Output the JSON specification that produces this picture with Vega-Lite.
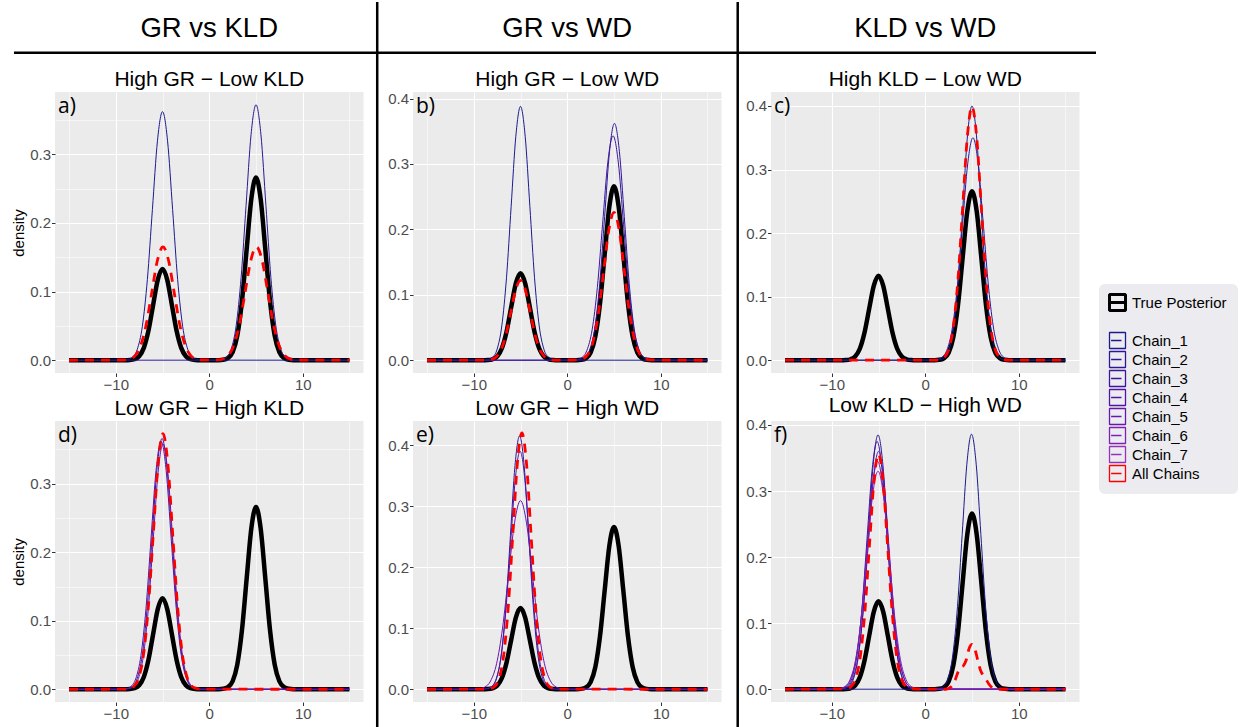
{
"$schema": "https://vega.github.io/schema/vega-lite/v6.json",
"padding": {"left": 11, "top": 0, "right": 0, "bottom": 0},
"background": "white",
"datasets": {
"headers": [{"column": "GR vs KLD"}, {"column": "GR vs WD"}, {"column": "KLD vs WD"}],
"truth": [
{"series":"True Posterior","x":-15,"density":0},{"series":"True Posterior","x":-9,"density":0},{"series":"True Posterior","x":-8.5,"density":0.0003},{"series":"True Posterior","x":-8,"density":0.0015},{"series":"True Posterior","x":-7.5,"density":0.0058},{"series":"True Posterior","x":-7,"density":0.018},{"series":"True Posterior","x":-6.5,"density":0.0432},{"series":"True Posterior","x":-6,"density":0.0807},{"series":"True Posterior","x":-5.5,"density":0.1174},{"series":"True Posterior","x":-5,"density":0.133},{"series":"True Posterior","x":-4.5,"density":0.1174},{"series":"True Posterior","x":-4,"density":0.0807},{"series":"True Posterior","x":-3.5,"density":0.0432},{"series":"True Posterior","x":-3,"density":0.018},{"series":"True Posterior","x":-2.5,"density":0.0058},{"series":"True Posterior","x":-2,"density":0.0015},{"series":"True Posterior","x":-1.5,"density":0.0003},{"series":"True Posterior","x":-1,"density":0},{"series":"True Posterior","x":1,"density":0.0001},{"series":"True Posterior","x":1.5,"density":0.0006},{"series":"True Posterior","x":2,"density":0.003},{"series":"True Posterior","x":2.5,"density":0.0117},{"series":"True Posterior","x":3,"density":0.036},{"series":"True Posterior","x":3.5,"density":0.0864},{"series":"True Posterior","x":4,"density":0.1613},{"series":"True Posterior","x":4.5,"density":0.2347},{"series":"True Posterior","x":5,"density":0.266},{"series":"True Posterior","x":5.5,"density":0.2347},{"series":"True Posterior","x":6,"density":0.1613},{"series":"True Posterior","x":6.5,"density":0.0864},{"series":"True Posterior","x":7,"density":0.036},{"series":"True Posterior","x":7.5,"density":0.0117},{"series":"True Posterior","x":8,"density":0.003},{"series":"True Posterior","x":8.5,"density":0.0006},{"series":"True Posterior","x":9,"density":0.0001},{"series":"True Posterior","x":15,"density":0}
],
"chains": [
{"panel":"a","series":"Chain_1","x":-15,"density":0},{"panel":"a","series":"Chain_1","x":-9.32,"density":0.0001},{"panel":"a","series":"Chain_1","x":-8.78,"density":0.0008},{"panel":"a","series":"Chain_1","x":-8.24,"density":0.004},{"panel":"a","series":"Chain_1","x":-7.7,"density":0.0159},{"panel":"a","series":"Chain_1","x":-7.16,"density":0.049},{"panel":"a","series":"Chain_1","x":-6.62,"density":0.1175},{"panel":"a","series":"Chain_1","x":-6.08,"density":0.2196},{"panel":"a","series":"Chain_1","x":-5.54,"density":0.3195},{"panel":"a","series":"Chain_1","x":-5,"density":0.362},{"panel":"a","series":"Chain_1","x":-4.46,"density":0.3195},{"panel":"a","series":"Chain_1","x":-3.92,"density":0.2196},{"panel":"a","series":"Chain_1","x":-3.38,"density":0.1175},{"panel":"a","series":"Chain_1","x":-2.84,"density":0.049},{"panel":"a","series":"Chain_1","x":-2.3,"density":0.0159},{"panel":"a","series":"Chain_1","x":-1.76,"density":0.004},{"panel":"a","series":"Chain_1","x":-1.22,"density":0.0008},{"panel":"a","series":"Chain_1","x":-0.68,"density":0.0001},{"panel":"a","series":"Chain_1","x":15,"density":0},
{"panel":"a","series":"Chain_2","x":-15,"density":0},{"panel":"a","series":"Chain_2","x":0.76,"density":0.0001},{"panel":"a","series":"Chain_2","x":1.29,"density":0.0008},{"panel":"a","series":"Chain_2","x":1.82,"density":0.0041},{"panel":"a","series":"Chain_2","x":2.35,"density":0.0163},{"panel":"a","series":"Chain_2","x":2.88,"density":0.0503},{"panel":"a","series":"Chain_2","x":3.41,"density":0.1208},{"panel":"a","series":"Chain_2","x":3.94,"density":0.2256},{"panel":"a","series":"Chain_2","x":4.47,"density":0.3283},{"panel":"a","series":"Chain_2","x":5,"density":0.372},{"panel":"a","series":"Chain_2","x":5.53,"density":0.3283},{"panel":"a","series":"Chain_2","x":6.06,"density":0.2256},{"panel":"a","series":"Chain_2","x":6.59,"density":0.1208},{"panel":"a","series":"Chain_2","x":7.12,"density":0.0503},{"panel":"a","series":"Chain_2","x":7.65,"density":0.0163},{"panel":"a","series":"Chain_2","x":8.18,"density":0.0041},{"panel":"a","series":"Chain_2","x":8.71,"density":0.0008},{"panel":"a","series":"Chain_2","x":9.24,"density":0.0001},{"panel":"a","series":"Chain_2","x":15,"density":0},
{"panel":"a","series":"All Chains","x":-15,"density":0},{"panel":"a","series":"All Chains","x":-9.08,"density":0.0004},{"panel":"a","series":"All Chains","x":-8.49,"density":0.0018},{"panel":"a","series":"All Chains","x":-7.9,"density":0.0072},{"panel":"a","series":"All Chains","x":-7.31,"density":0.0223},{"panel":"a","series":"All Chains","x":-6.72,"density":0.0536},{"panel":"a","series":"All Chains","x":-6.13,"density":0.1001},{"panel":"a","series":"All Chains","x":-5.54,"density":0.1456},{"panel":"a","series":"All Chains","x":-4.95,"density":0.165},{"panel":"a","series":"All Chains","x":-4.36,"density":0.1456},{"panel":"a","series":"All Chains","x":-3.77,"density":0.1001},{"panel":"a","series":"All Chains","x":-3.18,"density":0.0536},{"panel":"a","series":"All Chains","x":-2.59,"density":0.0223},{"panel":"a","series":"All Chains","x":-2,"density":0.0072},{"panel":"a","series":"All Chains","x":-1.41,"density":0.0018},{"panel":"a","series":"All Chains","x":-0.82,"density":0.0004},{"panel":"a","series":"All Chains","x":0.85,"density":0.0004},{"panel":"a","series":"All Chains","x":1.45,"density":0.0018},{"panel":"a","series":"All Chains","x":2.05,"density":0.0072},{"panel":"a","series":"All Chains","x":2.65,"density":0.0223},{"panel":"a","series":"All Chains","x":3.25,"density":0.0536},{"panel":"a","series":"All Chains","x":3.85,"density":0.1001},{"panel":"a","series":"All Chains","x":4.45,"density":0.1456},{"panel":"a","series":"All Chains","x":5.05,"density":0.165},{"panel":"a","series":"All Chains","x":5.65,"density":0.1456},{"panel":"a","series":"All Chains","x":6.25,"density":0.1001},{"panel":"a","series":"All Chains","x":6.85,"density":0.0536},{"panel":"a","series":"All Chains","x":7.45,"density":0.0223},{"panel":"a","series":"All Chains","x":8.05,"density":0.0072},{"panel":"a","series":"All Chains","x":8.65,"density":0.0018},{"panel":"a","series":"All Chains","x":9.25,"density":0.0004},{"panel":"a","series":"All Chains","x":15,"density":0},
{"panel":"b","series":"Chain_1","x":-15,"density":0},{"panel":"b","series":"Chain_1","x":-9,"density":0.0001},{"panel":"b","series":"Chain_1","x":-8.5,"density":0.0009},{"panel":"b","series":"Chain_1","x":-8,"density":0.0043},{"panel":"b","series":"Chain_1","x":-7.5,"density":0.017},{"panel":"b","series":"Chain_1","x":-7,"density":0.0525},{"panel":"b","series":"Chain_1","x":-6.5,"density":0.126},{"panel":"b","series":"Chain_1","x":-6,"density":0.2353},{"panel":"b","series":"Chain_1","x":-5.5,"density":0.3424},{"panel":"b","series":"Chain_1","x":-5,"density":0.388},{"panel":"b","series":"Chain_1","x":-4.5,"density":0.3424},{"panel":"b","series":"Chain_1","x":-4,"density":0.2353},{"panel":"b","series":"Chain_1","x":-3.5,"density":0.126},{"panel":"b","series":"Chain_1","x":-3,"density":0.0525},{"panel":"b","series":"Chain_1","x":-2.5,"density":0.017},{"panel":"b","series":"Chain_1","x":-2,"density":0.0043},{"panel":"b","series":"Chain_1","x":-1.5,"density":0.0009},{"panel":"b","series":"Chain_1","x":-1,"density":0.0001},{"panel":"b","series":"Chain_1","x":15,"density":0},
{"panel":"b","series":"Chain_2","x":-15,"density":0},{"panel":"b","series":"Chain_2","x":0.85,"density":0.0001},{"panel":"b","series":"Chain_2","x":1.375,"density":0.0008},{"panel":"b","series":"Chain_2","x":1.9,"density":0.004},{"panel":"b","series":"Chain_2","x":2.425,"density":0.0159},{"panel":"b","series":"Chain_2","x":2.95,"density":0.049},{"panel":"b","series":"Chain_2","x":3.475,"density":0.1175},{"panel":"b","series":"Chain_2","x":4,"density":0.2196},{"panel":"b","series":"Chain_2","x":4.525,"density":0.3195},{"panel":"b","series":"Chain_2","x":5.05,"density":0.362},{"panel":"b","series":"Chain_2","x":5.575,"density":0.3195},{"panel":"b","series":"Chain_2","x":6.1,"density":0.2196},{"panel":"b","series":"Chain_2","x":6.625,"density":0.1175},{"panel":"b","series":"Chain_2","x":7.15,"density":0.049},{"panel":"b","series":"Chain_2","x":7.675,"density":0.0159},{"panel":"b","series":"Chain_2","x":8.2,"density":0.004},{"panel":"b","series":"Chain_2","x":8.725,"density":0.0008},{"panel":"b","series":"Chain_2","x":9.25,"density":0.0001},{"panel":"b","series":"Chain_2","x":15,"density":0},
{"panel":"b","series":"Chain_3","x":-15,"density":0},{"panel":"b","series":"Chain_3","x":0.42,"density":0.0001},{"panel":"b","series":"Chain_3","x":0.98,"density":0.0008},{"panel":"b","series":"Chain_3","x":1.54,"density":0.0038},{"panel":"b","series":"Chain_3","x":2.1,"density":0.0151},{"panel":"b","series":"Chain_3","x":2.66,"density":0.0464},{"panel":"b","series":"Chain_3","x":3.22,"density":0.1114},{"panel":"b","series":"Chain_3","x":3.78,"density":0.208},{"panel":"b","series":"Chain_3","x":4.34,"density":0.3027},{"panel":"b","series":"Chain_3","x":4.9,"density":0.343},{"panel":"b","series":"Chain_3","x":5.46,"density":0.3027},{"panel":"b","series":"Chain_3","x":6.02,"density":0.208},{"panel":"b","series":"Chain_3","x":6.58,"density":0.1114},{"panel":"b","series":"Chain_3","x":7.14,"density":0.0464},{"panel":"b","series":"Chain_3","x":7.7,"density":0.0151},{"panel":"b","series":"Chain_3","x":8.26,"density":0.0038},{"panel":"b","series":"Chain_3","x":8.82,"density":0.0008},{"panel":"b","series":"Chain_3","x":9.38,"density":0.0001},{"panel":"b","series":"Chain_3","x":15,"density":0},
{"panel":"b","series":"All Chains","x":-15,"density":0},{"panel":"b","series":"All Chains","x":-8.605,"density":0.0003},{"panel":"b","series":"All Chains","x":-8.09,"density":0.0014},{"panel":"b","series":"All Chains","x":-7.575,"density":0.0054},{"panel":"b","series":"All Chains","x":-7.06,"density":0.0165},{"panel":"b","series":"All Chains","x":-6.545,"density":0.0396},{"panel":"b","series":"All Chains","x":-6.03,"density":0.074},{"panel":"b","series":"All Chains","x":-5.515,"density":0.1077},{"panel":"b","series":"All Chains","x":-5,"density":0.122},{"panel":"b","series":"All Chains","x":-4.485,"density":0.1077},{"panel":"b","series":"All Chains","x":-3.97,"density":0.074},{"panel":"b","series":"All Chains","x":-3.455,"density":0.0396},{"panel":"b","series":"All Chains","x":-2.94,"density":0.0165},{"panel":"b","series":"All Chains","x":-2.425,"density":0.0054},{"panel":"b","series":"All Chains","x":-1.91,"density":0.0014},{"panel":"b","series":"All Chains","x":-1.395,"density":0.0003},{"panel":"b","series":"All Chains","x":1.15,"density":0.0005},{"panel":"b","series":"All Chains","x":1.7,"density":0.0025},{"panel":"b","series":"All Chains","x":2.25,"density":0.0099},{"panel":"b","series":"All Chains","x":2.8,"density":0.0306},{"panel":"b","series":"All Chains","x":3.35,"density":0.0734},{"panel":"b","series":"All Chains","x":3.9,"density":0.1371},{"panel":"b","series":"All Chains","x":4.45,"density":0.1994},{"panel":"b","series":"All Chains","x":5,"density":0.226},{"panel":"b","series":"All Chains","x":5.55,"density":0.1994},{"panel":"b","series":"All Chains","x":6.1,"density":0.1371},{"panel":"b","series":"All Chains","x":6.65,"density":0.0734},{"panel":"b","series":"All Chains","x":7.2,"density":0.0306},{"panel":"b","series":"All Chains","x":7.75,"density":0.0099},{"panel":"b","series":"All Chains","x":8.3,"density":0.0025},{"panel":"b","series":"All Chains","x":8.85,"density":0.0005},{"panel":"b","series":"All Chains","x":15,"density":0},
{"panel":"c","series":"Chain_1","x":-15,"density":0},{"panel":"c","series":"Chain_1","x":1.12,"density":0.0001},{"panel":"c","series":"Chain_1","x":1.605,"density":0.0009},{"panel":"c","series":"Chain_1","x":2.09,"density":0.0044},{"panel":"c","series":"Chain_1","x":2.575,"density":0.0176},{"panel":"c","series":"Chain_1","x":3.06,"density":0.0541},{"panel":"c","series":"Chain_1","x":3.545,"density":0.1299},{"panel":"c","series":"Chain_1","x":4.03,"density":0.2426},{"panel":"c","series":"Chain_1","x":4.515,"density":0.353},{"panel":"c","series":"Chain_1","x":5,"density":0.4},{"panel":"c","series":"Chain_1","x":5.485,"density":0.353},{"panel":"c","series":"Chain_1","x":5.97,"density":0.2426},{"panel":"c","series":"Chain_1","x":6.455,"density":0.1299},{"panel":"c","series":"Chain_1","x":6.94,"density":0.0541},{"panel":"c","series":"Chain_1","x":7.425,"density":0.0176},{"panel":"c","series":"Chain_1","x":7.91,"density":0.0044},{"panel":"c","series":"Chain_1","x":8.395,"density":0.0009},{"panel":"c","series":"Chain_1","x":8.88,"density":0.0001},{"panel":"c","series":"Chain_1","x":15,"density":0},
{"panel":"c","series":"Chain_2","x":-15,"density":0},{"panel":"c","series":"Chain_2","x":0.62,"density":0.0001},{"panel":"c","series":"Chain_2","x":1.18,"density":0.0008},{"panel":"c","series":"Chain_2","x":1.74,"density":0.0039},{"panel":"c","series":"Chain_2","x":2.3,"density":0.0154},{"panel":"c","series":"Chain_2","x":2.86,"density":0.0474},{"panel":"c","series":"Chain_2","x":3.42,"density":0.1136},{"panel":"c","series":"Chain_2","x":3.98,"density":0.2123},{"panel":"c","series":"Chain_2","x":4.54,"density":0.3089},{"panel":"c","series":"Chain_2","x":5.1,"density":0.35},{"panel":"c","series":"Chain_2","x":5.66,"density":0.3089},{"panel":"c","series":"Chain_2","x":6.22,"density":0.2123},{"panel":"c","series":"Chain_2","x":6.78,"density":0.1136},{"panel":"c","series":"Chain_2","x":7.34,"density":0.0474},{"panel":"c","series":"Chain_2","x":7.9,"density":0.0154},{"panel":"c","series":"Chain_2","x":8.46,"density":0.0039},{"panel":"c","series":"Chain_2","x":9.02,"density":0.0008},{"panel":"c","series":"Chain_2","x":9.58,"density":0.0001},{"panel":"c","series":"Chain_2","x":15,"density":0},
{"panel":"c","series":"All Chains","x":-15,"density":0},{"panel":"c","series":"All Chains","x":1.04,"density":0.0001},{"panel":"c","series":"All Chains","x":1.535,"density":0.0009},{"panel":"c","series":"All Chains","x":2.03,"density":0.0044},{"panel":"c","series":"All Chains","x":2.525,"density":0.0175},{"panel":"c","series":"All Chains","x":3.02,"density":0.054},{"panel":"c","series":"All Chains","x":3.515,"density":0.1296},{"panel":"c","series":"All Chains","x":4.01,"density":0.242},{"panel":"c","series":"All Chains","x":4.505,"density":0.3521},{"panel":"c","series":"All Chains","x":5,"density":0.399},{"panel":"c","series":"All Chains","x":5.495,"density":0.3521},{"panel":"c","series":"All Chains","x":5.99,"density":0.242},{"panel":"c","series":"All Chains","x":6.485,"density":0.1296},{"panel":"c","series":"All Chains","x":6.98,"density":0.054},{"panel":"c","series":"All Chains","x":7.475,"density":0.0175},{"panel":"c","series":"All Chains","x":7.97,"density":0.0044},{"panel":"c","series":"All Chains","x":8.465,"density":0.0009},{"panel":"c","series":"All Chains","x":8.96,"density":0.0001},{"panel":"c","series":"All Chains","x":15,"density":0},
{"panel":"d","series":"Chain_3","x":-15,"density":0},{"panel":"d","series":"Chain_3","x":-9.29,"density":0.0001},{"panel":"d","series":"Chain_3","x":-8.76,"density":0.0008},{"panel":"d","series":"Chain_3","x":-8.23,"density":0.0041},{"panel":"d","series":"Chain_3","x":-7.7,"density":0.0161},{"panel":"d","series":"Chain_3","x":-7.17,"density":0.0495},{"panel":"d","series":"Chain_3","x":-6.64,"density":0.1188},{"panel":"d","series":"Chain_3","x":-6.11,"density":0.222},{"panel":"d","series":"Chain_3","x":-5.58,"density":0.323},{"panel":"d","series":"Chain_3","x":-5.05,"density":0.366},{"panel":"d","series":"Chain_3","x":-4.52,"density":0.323},{"panel":"d","series":"Chain_3","x":-3.99,"density":0.222},{"panel":"d","series":"Chain_3","x":-3.46,"density":0.1188},{"panel":"d","series":"Chain_3","x":-2.93,"density":0.0495},{"panel":"d","series":"Chain_3","x":-2.4,"density":0.0161},{"panel":"d","series":"Chain_3","x":-1.87,"density":0.0041},{"panel":"d","series":"Chain_3","x":-1.34,"density":0.0008},{"panel":"d","series":"Chain_3","x":-0.81,"density":0.0001},{"panel":"d","series":"Chain_3","x":15,"density":0},
{"panel":"d","series":"Chain_4","x":-15,"density":0},{"panel":"d","series":"Chain_4","x":-9.47,"density":0.0001},{"panel":"d","series":"Chain_4","x":-8.93,"density":0.0008},{"panel":"d","series":"Chain_4","x":-8.39,"density":0.004},{"panel":"d","series":"Chain_4","x":-7.85,"density":0.0159},{"panel":"d","series":"Chain_4","x":-7.31,"density":0.049},{"panel":"d","series":"Chain_4","x":-6.77,"density":0.1175},{"panel":"d","series":"Chain_4","x":-6.23,"density":0.2196},{"panel":"d","series":"Chain_4","x":-5.69,"density":0.3195},{"panel":"d","series":"Chain_4","x":-5.15,"density":0.362},{"panel":"d","series":"Chain_4","x":-4.61,"density":0.3195},{"panel":"d","series":"Chain_4","x":-4.07,"density":0.2196},{"panel":"d","series":"Chain_4","x":-3.53,"density":0.1175},{"panel":"d","series":"Chain_4","x":-2.99,"density":0.049},{"panel":"d","series":"Chain_4","x":-2.45,"density":0.0159},{"panel":"d","series":"Chain_4","x":-1.91,"density":0.004},{"panel":"d","series":"Chain_4","x":-1.37,"density":0.0008},{"panel":"d","series":"Chain_4","x":-0.83,"density":0.0001},{"panel":"d","series":"Chain_4","x":15,"density":0},
{"panel":"d","series":"Chain_5","x":-15,"density":0},{"panel":"d","series":"Chain_5","x":-9.15,"density":0.0001},{"panel":"d","series":"Chain_5","x":-8.625,"density":0.0008},{"panel":"d","series":"Chain_5","x":-8.1,"density":0.004},{"panel":"d","series":"Chain_5","x":-7.575,"density":0.0157},{"panel":"d","series":"Chain_5","x":-7.05,"density":0.0484},{"panel":"d","series":"Chain_5","x":-6.525,"density":0.1162},{"panel":"d","series":"Chain_5","x":-6,"density":0.2171},{"panel":"d","series":"Chain_5","x":-5.475,"density":0.3159},{"panel":"d","series":"Chain_5","x":-4.95,"density":0.358},{"panel":"d","series":"Chain_5","x":-4.425,"density":0.3159},{"panel":"d","series":"Chain_5","x":-3.9,"density":0.2171},{"panel":"d","series":"Chain_5","x":-3.375,"density":0.1162},{"panel":"d","series":"Chain_5","x":-2.85,"density":0.0484},{"panel":"d","series":"Chain_5","x":-2.325,"density":0.0157},{"panel":"d","series":"Chain_5","x":-1.8,"density":0.004},{"panel":"d","series":"Chain_5","x":-1.275,"density":0.0008},{"panel":"d","series":"Chain_5","x":-0.75,"density":0.0001},{"panel":"d","series":"Chain_5","x":15,"density":0},
{"panel":"d","series":"All Chains","x":-15,"density":0},{"panel":"d","series":"All Chains","x":-9.11,"density":0.0001},{"panel":"d","series":"All Chains","x":-8.59,"density":0.0008},{"panel":"d","series":"All Chains","x":-8.07,"density":0.0041},{"panel":"d","series":"All Chains","x":-7.55,"density":0.0164},{"panel":"d","series":"All Chains","x":-7.03,"density":0.0505},{"panel":"d","series":"All Chains","x":-6.51,"density":0.1211},{"panel":"d","series":"All Chains","x":-5.99,"density":0.2262},{"panel":"d","series":"All Chains","x":-5.47,"density":0.3292},{"panel":"d","series":"All Chains","x":-4.95,"density":0.373},{"panel":"d","series":"All Chains","x":-4.43,"density":0.3292},{"panel":"d","series":"All Chains","x":-3.91,"density":0.2262},{"panel":"d","series":"All Chains","x":-3.39,"density":0.1211},{"panel":"d","series":"All Chains","x":-2.87,"density":0.0505},{"panel":"d","series":"All Chains","x":-2.35,"density":0.0164},{"panel":"d","series":"All Chains","x":-1.83,"density":0.0041},{"panel":"d","series":"All Chains","x":-1.31,"density":0.0008},{"panel":"d","series":"All Chains","x":-0.79,"density":0.0001},{"panel":"d","series":"All Chains","x":15,"density":0},
{"panel":"e","series":"Chain_2","x":-15,"density":0},{"panel":"e","series":"Chain_2","x":-9.02,"density":0.0001},{"panel":"e","series":"Chain_2","x":-8.53,"density":0.0009},{"panel":"e","series":"Chain_2","x":-8.04,"density":0.0046},{"panel":"e","series":"Chain_2","x":-7.55,"density":0.0182},{"panel":"e","series":"Chain_2","x":-7.06,"density":0.0562},{"panel":"e","series":"Chain_2","x":-6.57,"density":0.1348},{"panel":"e","series":"Chain_2","x":-6.08,"density":0.2517},{"panel":"e","series":"Chain_2","x":-5.59,"density":0.3662},{"panel":"e","series":"Chain_2","x":-5.1,"density":0.415},{"panel":"e","series":"Chain_2","x":-4.61,"density":0.3662},{"panel":"e","series":"Chain_2","x":-4.12,"density":0.2517},{"panel":"e","series":"Chain_2","x":-3.63,"density":0.1348},{"panel":"e","series":"Chain_2","x":-3.14,"density":0.0562},{"panel":"e","series":"Chain_2","x":-2.65,"density":0.0182},{"panel":"e","series":"Chain_2","x":-2.16,"density":0.0046},{"panel":"e","series":"Chain_2","x":-1.67,"density":0.0009},{"panel":"e","series":"Chain_2","x":-1.18,"density":0.0001},{"panel":"e","series":"Chain_2","x":15,"density":0},
{"panel":"e","series":"Chain_4","x":-15,"density":0},{"panel":"e","series":"Chain_4","x":-9.13,"density":0.0001},{"panel":"e","series":"Chain_4","x":-8.62,"density":0.0009},{"panel":"e","series":"Chain_4","x":-8.11,"density":0.0043},{"panel":"e","series":"Chain_4","x":-7.6,"density":0.0171},{"panel":"e","series":"Chain_4","x":-7.09,"density":0.0528},{"panel":"e","series":"Chain_4","x":-6.58,"density":0.1266},{"panel":"e","series":"Chain_4","x":-6.07,"density":0.2365},{"panel":"e","series":"Chain_4","x":-5.56,"density":0.3442},{"panel":"e","series":"Chain_4","x":-5.05,"density":0.39},{"panel":"e","series":"Chain_4","x":-4.54,"density":0.3442},{"panel":"e","series":"Chain_4","x":-4.03,"density":0.2365},{"panel":"e","series":"Chain_4","x":-3.52,"density":0.1266},{"panel":"e","series":"Chain_4","x":-3.01,"density":0.0528},{"panel":"e","series":"Chain_4","x":-2.5,"density":0.0171},{"panel":"e","series":"Chain_4","x":-1.99,"density":0.0043},{"panel":"e","series":"Chain_4","x":-1.48,"density":0.0009},{"panel":"e","series":"Chain_4","x":-0.97,"density":0.0001},{"panel":"e","series":"Chain_4","x":15,"density":0},
{"panel":"e","series":"Chain_5","x":-15,"density":0},{"panel":"e","series":"Chain_5","x":-10.12,"density":0.0001},{"panel":"e","series":"Chain_5","x":-9.48,"density":0.0007},{"panel":"e","series":"Chain_5","x":-8.84,"density":0.0034},{"panel":"e","series":"Chain_5","x":-8.2,"density":0.0136},{"panel":"e","series":"Chain_5","x":-7.56,"density":0.0418},{"panel":"e","series":"Chain_5","x":-6.92,"density":0.1003},{"panel":"e","series":"Chain_5","x":-6.28,"density":0.1874},{"panel":"e","series":"Chain_5","x":-5.64,"density":0.2727},{"panel":"e","series":"Chain_5","x":-5,"density":0.309},{"panel":"e","series":"Chain_5","x":-4.36,"density":0.2727},{"panel":"e","series":"Chain_5","x":-3.72,"density":0.1874},{"panel":"e","series":"Chain_5","x":-3.08,"density":0.1003},{"panel":"e","series":"Chain_5","x":-2.44,"density":0.0418},{"panel":"e","series":"Chain_5","x":-1.8,"density":0.0136},{"panel":"e","series":"Chain_5","x":-1.16,"density":0.0034},{"panel":"e","series":"Chain_5","x":-0.52,"density":0.0007},{"panel":"e","series":"Chain_5","x":0.12,"density":0.0001},{"panel":"e","series":"Chain_5","x":15,"density":0},
{"panel":"e","series":"All Chains","x":-15,"density":0},{"panel":"e","series":"All Chains","x":-8.73,"density":0.0001},{"panel":"e","series":"All Chains","x":-8.245,"density":0.0009},{"panel":"e","series":"All Chains","x":-7.76,"density":0.0047},{"panel":"e","series":"All Chains","x":-7.275,"density":0.0184},{"panel":"e","series":"All Chains","x":-6.79,"density":0.0568},{"panel":"e","series":"All Chains","x":-6.305,"density":0.1364},{"panel":"e","series":"All Chains","x":-5.82,"density":0.2547},{"panel":"e","series":"All Chains","x":-5.335,"density":0.3707},{"panel":"e","series":"All Chains","x":-4.85,"density":0.42},{"panel":"e","series":"All Chains","x":-4.365,"density":0.3707},{"panel":"e","series":"All Chains","x":-3.88,"density":0.2547},{"panel":"e","series":"All Chains","x":-3.395,"density":0.1364},{"panel":"e","series":"All Chains","x":-2.91,"density":0.0568},{"panel":"e","series":"All Chains","x":-2.425,"density":0.0184},{"panel":"e","series":"All Chains","x":-1.94,"density":0.0047},{"panel":"e","series":"All Chains","x":-1.455,"density":0.0009},{"panel":"e","series":"All Chains","x":-0.97,"density":0.0001},{"panel":"e","series":"All Chains","x":15,"density":0},
{"panel":"f","series":"Chain_1","x":-15,"density":0},{"panel":"f","series":"Chain_1","x":0.95,"density":0.0001},{"panel":"f","series":"Chain_1","x":1.45,"density":0.0008},{"panel":"f","series":"Chain_1","x":1.95,"density":0.0043},{"panel":"f","series":"Chain_1","x":2.45,"density":0.0169},{"panel":"f","series":"Chain_1","x":2.95,"density":0.0522},{"panel":"f","series":"Chain_1","x":3.45,"density":0.1253},{"panel":"f","series":"Chain_1","x":3.95,"density":0.2341},{"panel":"f","series":"Chain_1","x":4.45,"density":0.3406},{"panel":"f","series":"Chain_1","x":4.95,"density":0.386},{"panel":"f","series":"Chain_1","x":5.45,"density":0.3406},{"panel":"f","series":"Chain_1","x":5.95,"density":0.2341},{"panel":"f","series":"Chain_1","x":6.45,"density":0.1253},{"panel":"f","series":"Chain_1","x":6.95,"density":0.0522},{"panel":"f","series":"Chain_1","x":7.45,"density":0.0169},{"panel":"f","series":"Chain_1","x":7.95,"density":0.0043},{"panel":"f","series":"Chain_1","x":8.45,"density":0.0008},{"panel":"f","series":"Chain_1","x":8.95,"density":0.0001},{"panel":"f","series":"Chain_1","x":15,"density":0},
{"panel":"f","series":"Chain_2","x":-15,"density":0},{"panel":"f","series":"Chain_2","x":-9.21,"density":0.0001},{"panel":"f","series":"Chain_2","x":-8.69,"density":0.0008},{"panel":"f","series":"Chain_2","x":-8.17,"density":0.0043},{"panel":"f","series":"Chain_2","x":-7.65,"density":0.0169},{"panel":"f","series":"Chain_2","x":-7.13,"density":0.0521},{"panel":"f","series":"Chain_2","x":-6.61,"density":0.125},{"panel":"f","series":"Chain_2","x":-6.09,"density":0.2335},{"panel":"f","series":"Chain_2","x":-5.57,"density":0.3398},{"panel":"f","series":"Chain_2","x":-5.05,"density":0.385},{"panel":"f","series":"Chain_2","x":-4.53,"density":0.3398},{"panel":"f","series":"Chain_2","x":-4.01,"density":0.2335},{"panel":"f","series":"Chain_2","x":-3.49,"density":0.125},{"panel":"f","series":"Chain_2","x":-2.97,"density":0.0521},{"panel":"f","series":"Chain_2","x":-2.45,"density":0.0169},{"panel":"f","series":"Chain_2","x":-1.93,"density":0.0043},{"panel":"f","series":"Chain_2","x":-1.41,"density":0.0008},{"panel":"f","series":"Chain_2","x":-0.89,"density":0.0001},{"panel":"f","series":"Chain_2","x":15,"density":0},
{"panel":"f","series":"Chain_3","x":-15,"density":0},{"panel":"f","series":"Chain_3","x":-9.47,"density":0.0001},{"panel":"f","series":"Chain_3","x":-8.93,"density":0.0008},{"panel":"f","series":"Chain_3","x":-8.39,"density":0.0042},{"panel":"f","series":"Chain_3","x":-7.85,"density":0.0165},{"panel":"f","series":"Chain_3","x":-7.31,"density":0.0507},{"panel":"f","series":"Chain_3","x":-6.77,"density":0.1218},{"panel":"f","series":"Chain_3","x":-6.23,"density":0.2274},{"panel":"f","series":"Chain_3","x":-5.69,"density":0.3309},{"panel":"f","series":"Chain_3","x":-5.15,"density":0.375},{"panel":"f","series":"Chain_3","x":-4.61,"density":0.3309},{"panel":"f","series":"Chain_3","x":-4.07,"density":0.2274},{"panel":"f","series":"Chain_3","x":-3.53,"density":0.1218},{"panel":"f","series":"Chain_3","x":-2.99,"density":0.0507},{"panel":"f","series":"Chain_3","x":-2.45,"density":0.0165},{"panel":"f","series":"Chain_3","x":-1.91,"density":0.0042},{"panel":"f","series":"Chain_3","x":-1.37,"density":0.0008},{"panel":"f","series":"Chain_3","x":-0.83,"density":0.0001},{"panel":"f","series":"Chain_3","x":15,"density":0},
{"panel":"f","series":"Chain_4","x":-15,"density":0},{"panel":"f","series":"Chain_4","x":-9.4,"density":0.0001},{"panel":"f","series":"Chain_4","x":-8.85,"density":0.0008},{"panel":"f","series":"Chain_4","x":-8.3,"density":0.004},{"panel":"f","series":"Chain_4","x":-7.75,"density":0.0158},{"panel":"f","series":"Chain_4","x":-7.2,"density":0.0487},{"panel":"f","series":"Chain_4","x":-6.65,"density":0.1169},{"panel":"f","series":"Chain_4","x":-6.1,"density":0.2183},{"panel":"f","series":"Chain_4","x":-5.55,"density":0.3177},{"panel":"f","series":"Chain_4","x":-5,"density":0.36},{"panel":"f","series":"Chain_4","x":-4.45,"density":0.3177},{"panel":"f","series":"Chain_4","x":-3.9,"density":0.2183},{"panel":"f","series":"Chain_4","x":-3.35,"density":0.1169},{"panel":"f","series":"Chain_4","x":-2.8,"density":0.0487},{"panel":"f","series":"Chain_4","x":-2.25,"density":0.0158},{"panel":"f","series":"Chain_4","x":-1.7,"density":0.004},{"panel":"f","series":"Chain_4","x":-1.15,"density":0.0008},{"panel":"f","series":"Chain_4","x":-0.6,"density":0.0001},{"panel":"f","series":"Chain_4","x":15,"density":0},
{"panel":"f","series":"Chain_5","x":-15,"density":0},{"panel":"f","series":"Chain_5","x":-9.7,"density":0.0001},{"panel":"f","series":"Chain_5","x":-9.125,"density":0.0008},{"panel":"f","series":"Chain_5","x":-8.55,"density":0.0038},{"panel":"f","series":"Chain_5","x":-7.975,"density":0.0151},{"panel":"f","series":"Chain_5","x":-7.4,"density":0.0467},{"panel":"f","series":"Chain_5","x":-6.825,"density":0.112},{"panel":"f","series":"Chain_5","x":-6.25,"density":0.2092},{"panel":"f","series":"Chain_5","x":-5.675,"density":0.3045},{"panel":"f","series":"Chain_5","x":-5.1,"density":0.345},{"panel":"f","series":"Chain_5","x":-4.525,"density":0.3045},{"panel":"f","series":"Chain_5","x":-3.95,"density":0.2092},{"panel":"f","series":"Chain_5","x":-3.375,"density":0.112},{"panel":"f","series":"Chain_5","x":-2.8,"density":0.0467},{"panel":"f","series":"Chain_5","x":-2.225,"density":0.0151},{"panel":"f","series":"Chain_5","x":-1.65,"density":0.0038},{"panel":"f","series":"Chain_5","x":-1.075,"density":0.0008},{"panel":"f","series":"Chain_5","x":-0.5,"density":0.0001},{"panel":"f","series":"Chain_5","x":15,"density":0},
{"panel":"f","series":"Chain_6","x":-15,"density":0},{"panel":"f","series":"Chain_6","x":-9.85,"density":0.0001},{"panel":"f","series":"Chain_6","x":-9.25,"density":0.0007},{"panel":"f","series":"Chain_6","x":-8.65,"density":0.0037},{"panel":"f","series":"Chain_6","x":-8.05,"density":0.0145},{"panel":"f","series":"Chain_6","x":-7.45,"density":0.0447},{"panel":"f","series":"Chain_6","x":-6.85,"density":0.1072},{"panel":"f","series":"Chain_6","x":-6.25,"density":0.2001},{"panel":"f","series":"Chain_6","x":-5.65,"density":0.2912},{"panel":"f","series":"Chain_6","x":-5.05,"density":0.33},{"panel":"f","series":"Chain_6","x":-4.45,"density":0.2912},{"panel":"f","series":"Chain_6","x":-3.85,"density":0.2001},{"panel":"f","series":"Chain_6","x":-3.25,"density":0.1072},{"panel":"f","series":"Chain_6","x":-2.65,"density":0.0447},{"panel":"f","series":"Chain_6","x":-2.05,"density":0.0145},{"panel":"f","series":"Chain_6","x":-1.45,"density":0.0037},{"panel":"f","series":"Chain_6","x":-0.85,"density":0.0007},{"panel":"f","series":"Chain_6","x":-0.25,"density":0.0001},{"panel":"f","series":"Chain_6","x":15,"density":0},
{"panel":"f","series":"All Chains","x":-15,"density":0},{"panel":"f","series":"All Chains","x":-8.43,"density":0.0008},{"panel":"f","series":"All Chains","x":-7.94,"density":0.004},{"panel":"f","series":"All Chains","x":-7.45,"density":0.0156},{"panel":"f","series":"All Chains","x":-6.96,"density":0.0482},{"panel":"f","series":"All Chains","x":-6.47,"density":0.1156},{"panel":"f","series":"All Chains","x":-5.98,"density":0.2159},{"panel":"f","series":"All Chains","x":-5.49,"density":0.3142},{"panel":"f","series":"All Chains","x":-5,"density":0.356},{"panel":"f","series":"All Chains","x":-4.51,"density":0.3142},{"panel":"f","series":"All Chains","x":-4.02,"density":0.2159},{"panel":"f","series":"All Chains","x":-3.53,"density":0.1156},{"panel":"f","series":"All Chains","x":-3.04,"density":0.0482},{"panel":"f","series":"All Chains","x":-2.55,"density":0.0156},{"panel":"f","series":"All Chains","x":-2.06,"density":0.004},{"panel":"f","series":"All Chains","x":-1.57,"density":0.0008},{"panel":"f","series":"All Chains","x":2.2,"density":0},{"panel":"f","series":"All Chains","x":2.8,"density":0.004},{"panel":"f","series":"All Chains","x":3.2,"density":0.014},{"panel":"f","series":"All Chains","x":3.5,"density":0.026},{"panel":"f","series":"All Chains","x":3.8,"density":0.033},{"panel":"f","series":"All Chains","x":4.1,"density":0.036},{"panel":"f","series":"All Chains","x":4.4,"density":0.045},{"panel":"f","series":"All Chains","x":4.7,"density":0.062},{"panel":"f","series":"All Chains","x":5,"density":0.068},{"panel":"f","series":"All Chains","x":5.3,"density":0.061},{"panel":"f","series":"All Chains","x":5.6,"density":0.045},{"panel":"f","series":"All Chains","x":5.9,"density":0.029},{"panel":"f","series":"All Chains","x":6.2,"density":0.021},{"panel":"f","series":"All Chains","x":6.5,"density":0.015},{"panel":"f","series":"All Chains","x":6.8,"density":0.008},{"panel":"f","series":"All Chains","x":7.2,"density":0.002},{"panel":"f","series":"All Chains","x":7.6,"density":0},{"panel":"f","series":"All Chains","x":15,"density":0}
]
},
"columns": 3,
"bounds": "flush",
"spacing": {"row": 48, "column": 49},
"concat": [
{
"width": 308.5, "height": 42, "view": {"fill": "transparent", "stroke": null},
"data": {"name": "headers"}, "transform": [{"filter": "datum.column === 'GR vs KLD'"}],
"layer": [
{"mark": {"type": "text", "fontSize": 27.5, "baseline": "middle", "align": "center", "font": "Liberation Sans", "color": "black"}, "encoding": {"x": {"datum": 0.5, "type": "quantitative", "scale": {"domain": [0, 1], "nice": false}, "axis": null}, "y": {"datum": 0.357, "type": "quantitative", "scale": {"domain": [0, 1], "nice": false}, "axis": null}, "text": {"field": "column"}}},
{"mark": {"type": "rule", "strokeWidth": 2.5, "color": "black"}, "encoding": {"x": {"datum": -0.133, "type": "quantitative", "scale": {"domain": [0, 1], "nice": false}, "axis": null}, "x2": {"datum": 1.0428}, "y": {"datum": -0.207, "type": "quantitative", "scale": {"domain": [0, 1], "nice": false}, "axis": null}}}
]
},
{
"width": 308.5, "height": 42, "view": {"fill": "transparent", "stroke": null},
"data": {"name": "headers"}, "transform": [{"filter": "datum.column === 'GR vs WD'"}],
"layer": [
{"mark": {"type": "text", "fontSize": 27.5, "baseline": "middle", "align": "center", "font": "Liberation Sans", "color": "black"}, "encoding": {"x": {"datum": 0.5, "type": "quantitative", "scale": {"domain": [0, 1], "nice": false}, "axis": null}, "y": {"datum": 0.357, "type": "quantitative", "scale": {"domain": [0, 1], "nice": false}, "axis": null}, "text": {"field": "column"}}},
{"mark": {"type": "rule", "strokeWidth": 2.5, "color": "black"}, "encoding": {"x": {"datum": -0.116, "type": "quantitative", "scale": {"domain": [0, 1], "nice": false}, "axis": null}, "x2": {"datum": 1.0509}, "y": {"datum": -0.207, "type": "quantitative", "scale": {"domain": [0, 1], "nice": false}, "axis": null}}},
{"mark": {"type": "rule", "strokeWidth": 2.5, "color": "black"}, "encoding": {"x": {"datum": -0.116, "type": "quantitative", "scale": {"domain": [0, 1], "nice": false}, "axis": null}, "y": {"datum": 1, "type": "quantitative", "scale": {"domain": [0, 1], "nice": false}, "axis": null}, "y2": {"datum": -17.45}}}
]
},
{
"width": 308.5, "height": 42, "view": {"fill": "transparent", "stroke": null},
"data": {"name": "headers"}, "transform": [{"filter": "datum.column === 'KLD vs WD'"}],
"layer": [
{"mark": {"type": "text", "fontSize": 27.5, "baseline": "middle", "align": "center", "font": "Liberation Sans", "color": "black"}, "encoding": {"x": {"datum": 0.5, "type": "quantitative", "scale": {"domain": [0, 1], "nice": false}, "axis": null}, "y": {"datum": 0.357, "type": "quantitative", "scale": {"domain": [0, 1], "nice": false}, "axis": null}, "text": {"field": "column"}}},
{"mark": {"type": "rule", "strokeWidth": 2.5, "color": "black"}, "encoding": {"x": {"datum": -0.1079, "type": "quantitative", "scale": {"domain": [0, 1], "nice": false}, "axis": null}, "x2": {"datum": 1.0535}, "y": {"datum": -0.207, "type": "quantitative", "scale": {"domain": [0, 1], "nice": false}, "axis": null}}},
{"mark": {"type": "rule", "strokeWidth": 2.5, "color": "black"}, "encoding": {"x": {"datum": -0.1079, "type": "quantitative", "scale": {"domain": [0, 1], "nice": false}, "axis": null}, "y": {"datum": 1, "type": "quantitative", "scale": {"domain": [0, 1], "nice": false}, "axis": null}, "y2": {"datum": -17.45}}}
]
},
{
"width": 308.5, "height": 281, "title": {"text": "High GR − Low KLD"},
"layer": [
{
"encoding": {
"x": {"field": "x", "type": "quantitative", "scale": {"domain": [-16.5, 16.5], "nice": false, "zero": false}, "axis": {"values": [-15, -10, -5, 0, 5, 10, 15], "labelExpr": "datum.value % 10 === 0 ? datum.label : ''", "gridWidth": {"condition": {"test": "datum.value % 10 === 0", "value": 1.1}, "value": 0.55}, "tickOpacity": {"condition": {"test": "datum.value % 10 === 0", "value": 1}, "value": 0}, "title": null}},
"y": {"field": "density", "type": "quantitative", "scale": {"domain": [-0.0186, 0.3906], "nice": false, "zero": false}, "axis": {"values": [0, 0.05, 0.1, 0.15, 0.2, 0.25, 0.3, 0.35], "format": ".1f", "labelExpr": "abs(datum.value*10 - round(datum.value*10)) < 0.01 ? datum.label : ''", "gridWidth": {"condition": {"test": "abs(datum.value*10 - round(datum.value*10)) < 0.01", "value": 1.1}, "value": 0.55}, "tickOpacity": {"condition": {"test": "abs(datum.value*10 - round(datum.value*10)) < 0.01", "value": 1}, "value": 0}, "title": "density"}},
"color": {"field": "series", "type": "nominal", "scale": {"domain": ["True Posterior", " ", "Chain_1", "Chain_2", "Chain_3", "Chain_4", "Chain_5", "Chain_6", "Chain_7", "All Chains"], "range": ["#000000", "transparent", "#1B1B8F", "#2C1896", "#3E169D", "#5214A4", "#6816AB", "#8020B2", "#9A30BA", "#FF0000"]}, "legend": {"title": null, "orient": "right", "offset": 1, "labelFontSize": 15, "labelFont": "Liberation Sans", "labelColor": "#000000", "labelOffset": 7, "symbolSize": 256, "rowPadding": 0, "padding": 11, "fillColor": "#EBEBF0", "cornerRadius": 6, "encode": {"symbols": {"update": {"strokeWidth": {"signal": "datum.value === 'True Posterior' ? 3 : 1.3"}, "strokeJoin": {"value": "bevel"}, "strokeDash": {"value": []}, "fill": {"value": "transparent"}, "shape": {"signal": "datum.value === 'True Posterior' ? 'M-1,-1H1V1H-1ZM-1,0H1' : 'M-1,-1H1V1H-1ZM-0.8,0H0.5'"}}}}}}
},
"layer": [
{"data": {"name": "truth"}, "mark": {"type": "line", "strokeWidth": 4.5, "interpolate": "monotone"}},
{"data": {"name": "chains"}, "transform": [{"filter": "datum.panel === 'a' && datum.series !== 'All Chains'"}], "mark": {"type": "line", "strokeWidth": 1, "interpolate": "monotone"}},
{"data": {"name": "chains"}, "transform": [{"filter": "datum.panel === 'a' && datum.series === 'All Chains'"}], "mark": {"type": "line", "strokeWidth": 2.8, "strokeDash": [9, 7], "interpolate": "monotone"}}
]
},
{"data": {"values": [{"letter": "a)"}]}, "mark": {"type": "text", "align": "left", "baseline": "top", "dx": 3, "dy": 4, "fontSize": 21, "font": "Open Sans", "color": "black"}, "encoding": {"x": {"datum": -16.5, "type": "quantitative", "axis": {"title": null}}, "y": {"datum": 0.3906, "type": "quantitative", "axis": {"title": "density"}}, "text": {"field": "letter", "type": "nominal"}}}
]
},
{
"width": 308.5, "height": 281, "title": {"text": "High GR − Low WD"},
"layer": [
{
"encoding": {
"x": {"field": "x", "type": "quantitative", "scale": {"domain": [-16.5, 16.5], "nice": false, "zero": false}, "axis": {"values": [-15, -10, -5, 0, 5, 10, 15], "labelExpr": "datum.value % 10 === 0 ? datum.label : ''", "gridWidth": {"condition": {"test": "datum.value % 10 === 0", "value": 1.1}, "value": 0.55}, "tickOpacity": {"condition": {"test": "datum.value % 10 === 0", "value": 1}, "value": 0}, "title": null}},
"y": {"field": "density", "type": "quantitative", "scale": {"domain": [-0.0195, 0.41], "nice": false, "zero": false}, "axis": {"values": [0, 0.05, 0.1, 0.15, 0.2, 0.25, 0.3, 0.35, 0.4], "format": ".1f", "labelExpr": "abs(datum.value*10 - round(datum.value*10)) < 0.01 ? datum.label : ''", "gridWidth": {"condition": {"test": "abs(datum.value*10 - round(datum.value*10)) < 0.01", "value": 1.1}, "value": 0.55}, "tickOpacity": {"condition": {"test": "abs(datum.value*10 - round(datum.value*10)) < 0.01", "value": 1}, "value": 0}, "title": null}},
"color": {"field": "series", "type": "nominal", "scale": {"domain": ["True Posterior", " ", "Chain_1", "Chain_2", "Chain_3", "Chain_4", "Chain_5", "Chain_6", "Chain_7", "All Chains"], "range": ["#000000", "transparent", "#1B1B8F", "#2C1896", "#3E169D", "#5214A4", "#6816AB", "#8020B2", "#9A30BA", "#FF0000"]}}
},
"layer": [
{"data": {"name": "truth"}, "mark": {"type": "line", "strokeWidth": 4.5, "interpolate": "monotone"}},
{"data": {"name": "chains"}, "transform": [{"filter": "datum.panel === 'b' && datum.series !== 'All Chains'"}], "mark": {"type": "line", "strokeWidth": 1, "interpolate": "monotone"}},
{"data": {"name": "chains"}, "transform": [{"filter": "datum.panel === 'b' && datum.series === 'All Chains'"}], "mark": {"type": "line", "strokeWidth": 2.8, "strokeDash": [9, 7], "interpolate": "monotone"}}
]
},
{"data": {"values": [{"letter": "b)"}]}, "mark": {"type": "text", "align": "left", "baseline": "top", "dx": 3, "dy": 4, "fontSize": 21, "font": "Open Sans", "color": "black"}, "encoding": {"x": {"datum": -16.5, "type": "quantitative", "axis": {"title": null}}, "y": {"datum": 0.41, "type": "quantitative", "axis": {"title": null}}, "text": {"field": "letter", "type": "nominal"}}}
]
},
{
"width": 308.5, "height": 281, "title": {"text": "High KLD − Low WD"},
"layer": [
{
"encoding": {
"x": {"field": "x", "type": "quantitative", "scale": {"domain": [-16.5, 16.5], "nice": false, "zero": false}, "axis": {"values": [-15, -10, -5, 0, 5, 10, 15], "labelExpr": "datum.value % 10 === 0 ? datum.label : ''", "gridWidth": {"condition": {"test": "datum.value % 10 === 0", "value": 1.1}, "value": 0.55}, "tickOpacity": {"condition": {"test": "datum.value % 10 === 0", "value": 1}, "value": 0}, "title": null}},
"y": {"field": "density", "type": "quantitative", "scale": {"domain": [-0.0201, 0.422], "nice": false, "zero": false}, "axis": {"values": [0, 0.05, 0.1, 0.15, 0.2, 0.25, 0.3, 0.35, 0.4], "format": ".1f", "labelExpr": "abs(datum.value*10 - round(datum.value*10)) < 0.01 ? datum.label : ''", "gridWidth": {"condition": {"test": "abs(datum.value*10 - round(datum.value*10)) < 0.01", "value": 1.1}, "value": 0.55}, "tickOpacity": {"condition": {"test": "abs(datum.value*10 - round(datum.value*10)) < 0.01", "value": 1}, "value": 0}, "title": null}},
"color": {"field": "series", "type": "nominal", "scale": {"domain": ["True Posterior", " ", "Chain_1", "Chain_2", "Chain_3", "Chain_4", "Chain_5", "Chain_6", "Chain_7", "All Chains"], "range": ["#000000", "transparent", "#1B1B8F", "#2C1896", "#3E169D", "#5214A4", "#6816AB", "#8020B2", "#9A30BA", "#FF0000"]}}
},
"layer": [
{"data": {"name": "truth"}, "mark": {"type": "line", "strokeWidth": 4.5, "interpolate": "monotone"}},
{"data": {"name": "chains"}, "transform": [{"filter": "datum.panel === 'c' && datum.series !== 'All Chains'"}], "mark": {"type": "line", "strokeWidth": 1, "interpolate": "monotone"}},
{"data": {"name": "chains"}, "transform": [{"filter": "datum.panel === 'c' && datum.series === 'All Chains'"}], "mark": {"type": "line", "strokeWidth": 2.8, "strokeDash": [9, 7], "interpolate": "monotone"}}
]
},
{"data": {"values": [{"letter": "c)"}]}, "mark": {"type": "text", "align": "left", "baseline": "top", "dx": 3, "dy": 4, "fontSize": 21, "font": "Open Sans", "color": "black"}, "encoding": {"x": {"datum": -16.5, "type": "quantitative", "axis": {"title": null}}, "y": {"datum": 0.422, "type": "quantitative", "axis": {"title": null}}, "text": {"field": "letter", "type": "nominal"}}}
]
},
{
"width": 308.5, "height": 281, "title": {"text": "Low GR − High KLD"},
"layer": [
{
"encoding": {
"x": {"field": "x", "type": "quantitative", "scale": {"domain": [-16.5, 16.5], "nice": false, "zero": false}, "axis": {"values": [-15, -10, -5, 0, 5, 10, 15], "labelExpr": "datum.value % 10 === 0 ? datum.label : ''", "gridWidth": {"condition": {"test": "datum.value % 10 === 0", "value": 1.1}, "value": 0.55}, "tickOpacity": {"condition": {"test": "datum.value % 10 === 0", "value": 1}, "value": 0}, "title": null}},
"y": {"field": "density", "type": "quantitative", "scale": {"domain": [-0.0186, 0.3916], "nice": false, "zero": false}, "axis": {"values": [0, 0.05, 0.1, 0.15, 0.2, 0.25, 0.3, 0.35], "format": ".1f", "labelExpr": "abs(datum.value*10 - round(datum.value*10)) < 0.01 ? datum.label : ''", "gridWidth": {"condition": {"test": "abs(datum.value*10 - round(datum.value*10)) < 0.01", "value": 1.1}, "value": 0.55}, "tickOpacity": {"condition": {"test": "abs(datum.value*10 - round(datum.value*10)) < 0.01", "value": 1}, "value": 0}, "title": "density"}},
"color": {"field": "series", "type": "nominal", "scale": {"domain": ["True Posterior", " ", "Chain_1", "Chain_2", "Chain_3", "Chain_4", "Chain_5", "Chain_6", "Chain_7", "All Chains"], "range": ["#000000", "transparent", "#1B1B8F", "#2C1896", "#3E169D", "#5214A4", "#6816AB", "#8020B2", "#9A30BA", "#FF0000"]}}
},
"layer": [
{"data": {"name": "truth"}, "mark": {"type": "line", "strokeWidth": 4.5, "interpolate": "monotone"}},
{"data": {"name": "chains"}, "transform": [{"filter": "datum.panel === 'd' && datum.series !== 'All Chains'"}], "mark": {"type": "line", "strokeWidth": 1, "interpolate": "monotone"}},
{"data": {"name": "chains"}, "transform": [{"filter": "datum.panel === 'd' && datum.series === 'All Chains'"}], "mark": {"type": "line", "strokeWidth": 2.8, "strokeDash": [9, 7], "interpolate": "monotone"}}
]
},
{"data": {"values": [{"letter": "d)"}]}, "mark": {"type": "text", "align": "left", "baseline": "top", "dx": 3, "dy": 4, "fontSize": 21, "font": "Open Sans", "color": "black"}, "encoding": {"x": {"datum": -16.5, "type": "quantitative", "axis": {"title": null}}, "y": {"datum": 0.3916, "type": "quantitative", "axis": {"title": "density"}}, "text": {"field": "letter", "type": "nominal"}}}
]
},
{
"width": 308.5, "height": 281, "title": {"text": "Low GR − High WD"},
"layer": [
{
"encoding": {
"x": {"field": "x", "type": "quantitative", "scale": {"domain": [-16.5, 16.5], "nice": false, "zero": false}, "axis": {"values": [-15, -10, -5, 0, 5, 10, 15], "labelExpr": "datum.value % 10 === 0 ? datum.label : ''", "gridWidth": {"condition": {"test": "datum.value % 10 === 0", "value": 1.1}, "value": 0.55}, "tickOpacity": {"condition": {"test": "datum.value % 10 === 0", "value": 1}, "value": 0}, "title": null}},
"y": {"field": "density", "type": "quantitative", "scale": {"domain": [-0.0209, 0.4395], "nice": false, "zero": false}, "axis": {"values": [0, 0.05, 0.1, 0.15, 0.2, 0.25, 0.3, 0.35, 0.4], "format": ".1f", "labelExpr": "abs(datum.value*10 - round(datum.value*10)) < 0.01 ? datum.label : ''", "gridWidth": {"condition": {"test": "abs(datum.value*10 - round(datum.value*10)) < 0.01", "value": 1.1}, "value": 0.55}, "tickOpacity": {"condition": {"test": "abs(datum.value*10 - round(datum.value*10)) < 0.01", "value": 1}, "value": 0}, "title": null}},
"color": {"field": "series", "type": "nominal", "scale": {"domain": ["True Posterior", " ", "Chain_1", "Chain_2", "Chain_3", "Chain_4", "Chain_5", "Chain_6", "Chain_7", "All Chains"], "range": ["#000000", "transparent", "#1B1B8F", "#2C1896", "#3E169D", "#5214A4", "#6816AB", "#8020B2", "#9A30BA", "#FF0000"]}}
},
"layer": [
{"data": {"name": "truth"}, "mark": {"type": "line", "strokeWidth": 4.5, "interpolate": "monotone"}},
{"data": {"name": "chains"}, "transform": [{"filter": "datum.panel === 'e' && datum.series !== 'All Chains'"}], "mark": {"type": "line", "strokeWidth": 1, "interpolate": "monotone"}},
{"data": {"name": "chains"}, "transform": [{"filter": "datum.panel === 'e' && datum.series === 'All Chains'"}], "mark": {"type": "line", "strokeWidth": 2.8, "strokeDash": [9, 7], "interpolate": "monotone"}}
]
},
{"data": {"values": [{"letter": "e)"}]}, "mark": {"type": "text", "align": "left", "baseline": "top", "dx": 3, "dy": 4, "fontSize": 21, "font": "Open Sans", "color": "black"}, "encoding": {"x": {"datum": -16.5, "type": "quantitative", "axis": {"title": null}}, "y": {"datum": 0.4395, "type": "quantitative", "axis": {"title": null}}, "text": {"field": "letter", "type": "nominal"}}}
]
},
{
"width": 308.5, "height": 281, "title": {"text": "Low KLD − High WD"},
"layer": [
{
"encoding": {
"x": {"field": "x", "type": "quantitative", "scale": {"domain": [-16.5, 16.5], "nice": false, "zero": false}, "axis": {"values": [-15, -10, -5, 0, 5, 10, 15], "labelExpr": "datum.value % 10 === 0 ? datum.label : ''", "gridWidth": {"condition": {"test": "datum.value % 10 === 0", "value": 1.1}, "value": 0.55}, "tickOpacity": {"condition": {"test": "datum.value % 10 === 0", "value": 1}, "value": 0}, "title": null}},
"y": {"field": "density", "type": "quantitative", "scale": {"domain": [-0.0193, 0.406], "nice": false, "zero": false}, "axis": {"values": [0, 0.05, 0.1, 0.15, 0.2, 0.25, 0.3, 0.35, 0.4], "format": ".1f", "labelExpr": "abs(datum.value*10 - round(datum.value*10)) < 0.01 ? datum.label : ''", "gridWidth": {"condition": {"test": "abs(datum.value*10 - round(datum.value*10)) < 0.01", "value": 1.1}, "value": 0.55}, "tickOpacity": {"condition": {"test": "abs(datum.value*10 - round(datum.value*10)) < 0.01", "value": 1}, "value": 0}, "title": null}},
"color": {"field": "series", "type": "nominal", "scale": {"domain": ["True Posterior", " ", "Chain_1", "Chain_2", "Chain_3", "Chain_4", "Chain_5", "Chain_6", "Chain_7", "All Chains"], "range": ["#000000", "transparent", "#1B1B8F", "#2C1896", "#3E169D", "#5214A4", "#6816AB", "#8020B2", "#9A30BA", "#FF0000"]}}
},
"layer": [
{"data": {"name": "truth"}, "mark": {"type": "line", "strokeWidth": 4.5, "interpolate": "monotone"}},
{"data": {"name": "chains"}, "transform": [{"filter": "datum.panel === 'f' && datum.series !== 'All Chains'"}], "mark": {"type": "line", "strokeWidth": 1, "interpolate": "monotone"}},
{"data": {"name": "chains"}, "transform": [{"filter": "datum.panel === 'f' && datum.series === 'All Chains'"}], "mark": {"type": "line", "strokeWidth": 2.8, "strokeDash": [9, 7], "interpolate": "monotone"}}
]
},
{"data": {"values": [{"letter": "f)"}]}, "mark": {"type": "text", "align": "left", "baseline": "top", "dx": 3, "dy": 4, "fontSize": 21, "font": "Open Sans", "color": "black"}, "encoding": {"x": {"datum": -16.5, "type": "quantitative", "axis": {"title": null}}, "y": {"datum": 0.406, "type": "quantitative", "axis": {"title": null}}, "text": {"field": "letter", "type": "nominal"}}}
]
}
],
"config": {
"font": "Liberation Sans",
"view": {"fill": "#EBEBEB", "stroke": null},
"axis": {"domain": false, "grid": true, "gridColor": "#FFFFFF", "tickColor": "#333333", "tickSize": 3.5, "tickWidth": 1, "labelColor": "#4D4D4D", "labelFont": "Liberation Sans", "labelFontSize": 15, "labelPadding": 1, "titleFont": "Liberation Sans", "titleFontSize": 15, "titleFontWeight": "normal", "titleColor": "#000000", "titlePadding": 3},
"title": {"font": "Liberation Sans", "fontSize": 21, "fontWeight": "normal", "color": "#000000", "offset": 2, "anchor": "middle"},
"legend": {"fillColor": "#EBEBF0", "cornerRadius": 6, "padding": 11, "labelFont": "Liberation Sans", "labelFontSize": 15, "labelColor": "#000000", "symbolSize": 256, "rowPadding": 0, "labelOffset": 7, "symbolFillColor": "transparent", "layout": {"right": {"anchor": "middle"}}}
}
}
